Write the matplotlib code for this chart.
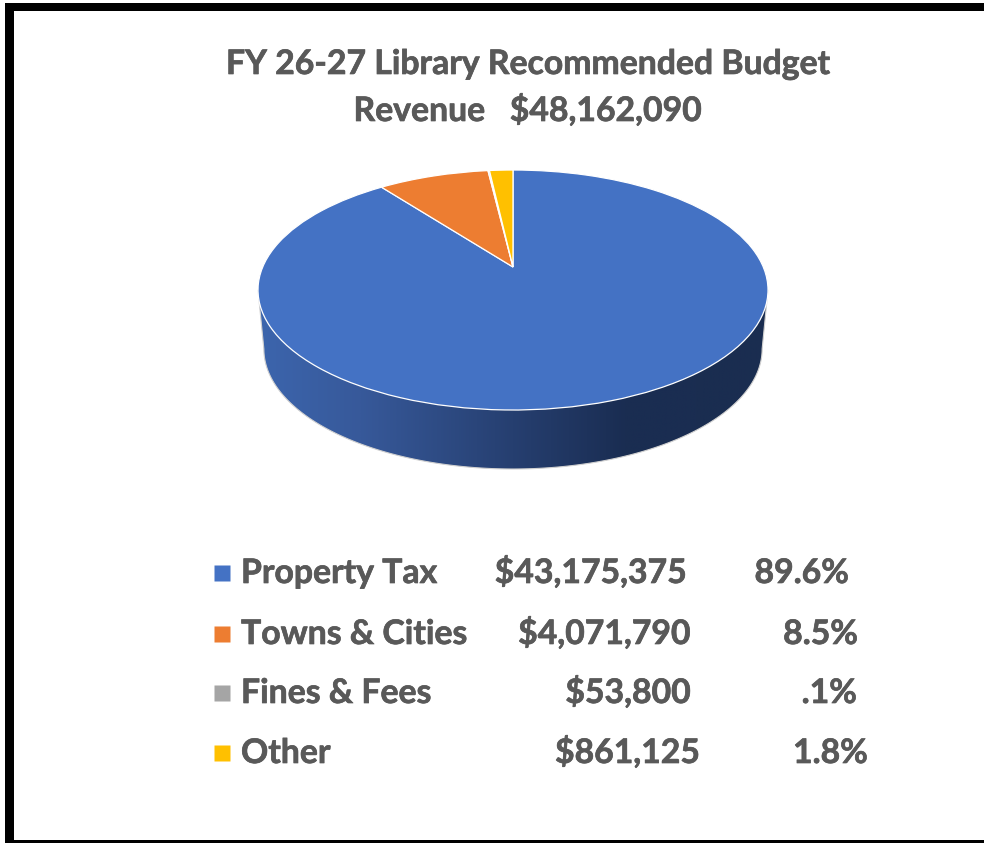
import numpy as np
import matplotlib
matplotlib.use('Agg')
import matplotlib.pyplot as plt
import matplotlib.patheffects as pe
from matplotlib.colors import LinearSegmentedColormap
from matplotlib.patches import Polygon, Rectangle
from matplotlib.transforms import Transform

title_lines = ['FY 26-27 Library Recommended Budget', 'Revenue   $48,162,090']
categories = ['Property Tax', 'Towns & Cities', 'Fines & Fees', 'Other']
amounts = [43175375, 4071790, 53800, 861125]
amount_labels = ['$43,175,375', '$4,071,790', '$53,800', '$861,125']
percent_labels = ['89.6%', '8.5%', '.1%', '1.8%']
colors = ['#4472C4', '#ED7D31', '#A5A5A5', '#FFC000']

text_color = '#595959'
font_name = 'Lato'
font_size = 24.3

# where the legend columns sit, the original is hand spaced so they wander
row_y = [583, 644, 703, 763]
amount_right = [687, 691, 691, 700]
percent_right = [849, 858, 857, 868]

# pie geometry in pixels
cx, cy = 513, 290
half_h = 120
apex_lift = 23
persp = apex_lift / half_h
half_w = 255 * np.sqrt(1 - persp ** 2)
depth = 59
floor_scale = 0.977


class TiltTransform(Transform):
    # unit disc -> tilted disc seen in perspective, like the office 3d pie
    input_dims = 2
    output_dims = 2

    def __init__(self, dy=0, scale=1.0):
        super().__init__()
        self.dy = dy
        self.scale = scale

    def transform_non_affine(self, values):
        u, v = values[:, 0], values[:, 1]
        w = 1 + persp * v
        x = cx + self.scale * half_w * u / w
        y = cy + self.dy - (half_h * v + apex_lift) / w
        return np.column_stack([x, y])


def put_text(x, y, s, ha):
    t = ax.text(x, y, s, ha=ha, va='baseline', fontsize=font_size, fontweight='bold',
                family=font_name, color=text_color)
    t.set_path_effects([pe.withStroke(linewidth=0.5, foreground=text_color)])


fig = plt.figure(figsize=(9.84, 8.43), dpi=100)
ax = fig.add_axes([0, 0, 1, 1])

top = TiltTransform()
wedges, _ = ax.pie(amounts, colors=colors, startangle=90, counterclock=False,
                   wedgeprops={'transform': top + ax.transData,
                               'edgecolor': 'white', 'linewidth': 0.9, 'zorder': 3})
ax.set_aspect('auto')

# side wall, lower half of the floor rim joined to the edge of the top face
theta = np.linspace(np.pi + np.arcsin(persp), 2 * np.pi - np.arcsin(persp), 300)
unit = np.column_stack([np.cos(theta), np.sin(theta)])
floor = TiltTransform(dy=depth, scale=floor_scale).transform(unit)
rim = top.transform(unit[[0, -1]])
wall_xy = np.vstack([rim[:1], floor, rim[1:]])
wall = Polygon(wall_xy, closed=True, facecolor='none', edgecolor='#d0d0d0',
               linewidth=0.8, zorder=2)
ax.add_patch(wall)

shade = LinearSegmentedColormap.from_list('wall', [
    (0.0, '#3C65AD'), (0.2, '#37599A'), (0.5, '#263F70'),
    (0.72, '#1A2D52'), (1.0, '#1A2D50')])
img = ax.imshow(np.linspace(0, 1, 512)[None, :], cmap=shade, aspect='auto',
                extent=(cx - 255, cx + 255, 500, 280), zorder=1)
img.set_clip_path(wall)

# legend
for i in range(len(categories)):
    ax.plot([221.5], [row_y[i] - 10], linestyle='none', marker='s', markersize=11,
            markerfacecolor=colors[i], markeredgecolor='none', zorder=3)
    put_text(241, row_y[i], categories[i], 'left')
    put_text(amount_right[i], row_y[i], amount_labels[i], 'right')
    put_text(percent_right[i], row_y[i], percent_labels[i], 'right')

put_text(528, 74, title_lines[0], 'center')
put_text(528, 121, title_lines[1], 'center')

# thick black border, no right side and the bottom is cut by the picture edge
for x, y, w, h in [(5, 3, 979, 8), (5, 3, 9, 840), (5, 840, 979, 3)]:
    ax.add_patch(Rectangle((x, y), w, h, facecolor='black', edgecolor='none', zorder=5))

ax.set_xlim(0, 984)
ax.set_ylim(843, 0)
ax.axis('off')
fig.savefig('out.png', dpi=100, facecolor='white')
